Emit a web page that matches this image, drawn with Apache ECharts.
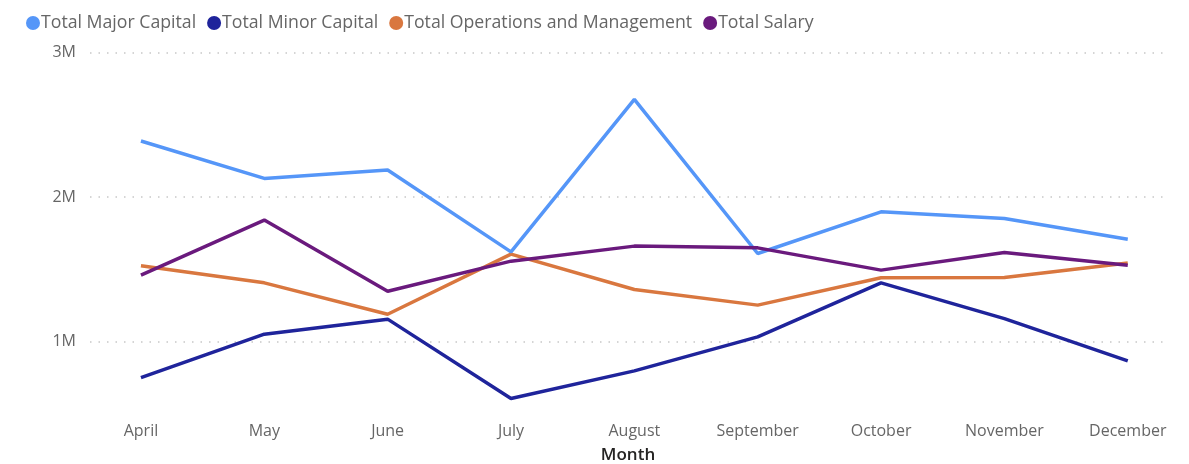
<!DOCTYPE html>
<html>
<head>
<meta charset="utf-8">
<script src="https://cdn.jsdelivr.net/npm/echarts@6/dist/echarts.min.js"></script>
<style>
html,body{margin:0;padding:0;background:#fff;}
#c{width:1189px;height:464px;}
</style>
</head>
<body>
<div id="c"></div>
<script>
const months = ['April','May','June','July','August','September','October','November','December'];
const majorCapital = [2388000, 2129000, 2187000, 1621000, 2676000, 1610000, 1898000, 1852000, 1709000];
const minorCapital = [752000, 1052000, 1156000, 607000, 798000, 1033000, 1407000, 1160000, 867000];
const operations = [1525000, 1407000, 1190000, 1606000, 1361000, 1253000, 1442000, 1444000, 1545000];
const salary = [1460000, 1841000, 1349000, 1557000, 1661000, 1649000, 1495000, 1617000, 1529000];
const yTicks = [1000000, 2000000, 3000000];
const seriesNames = ['Total Major Capital','Total Minor Capital','Total Operations and Management','Total Salary'];
const colors = ['#5596F8','#1F249B','#D9773F','#6A1A7D'];

const font = '"Open Sans", "Noto Sans", sans-serif';
const toPairs = arr => arr.map((v, i) => [i, v]);
const idx = months.map((m, i) => i);

const chart = echarts.init(document.getElementById('c'), null, {renderer: 'canvas'});
const allData = [majorCapital, minorCapital, operations, salary];
chart.setOption({
  animation: false,
  color: colors,
  textStyle: {fontFamily: font},
  legend: {
    left: 21, top: 9,
    icon: 'circle', itemWidth: 14, itemHeight: 14, itemGap: 11,
    textStyle: {color: '#666', fontSize: 17.7, fontFamily: font, padding: [0,0,0,-4]},
    data: seriesNames
  },
  grid: {left: 90, right: 23, top: 52.5, bottom: 50, containLabel: false, outerBoundsMode: 'none'},
  xAxis: {
    type: 'value', min: -0.413, max: 8.31,
    name: 'Month', nameLocation: 'middle', nameGap: 33,
    nameTextStyle: {color: '#252423', fontSize: 17, fontWeight: 600, fontFamily: font},
    axisLine: {show: false}, axisTick: {show: false, customValues: idx},
    splitLine: {show: false},
    axisLabel: {customValues: idx, color: '#666', fontSize: 16, margin: 9,
      formatter: v => months[Math.round(v)] || ''}
  },
  yAxis: {
    type: 'value', min: 500000, max: 3000000,
    axisLine: {show: false},
    axisTick: {show: false, customValues: yTicks},
    axisLabel: {customValues: yTicks, color: '#666', fontSize: 16, margin: 14,
      formatter: v => (v / 1000000) + 'M'},
    splitLine: {show: true, lineStyle: {color: '#c8c8c8', width: 1.5, type: [1.5, 7]}}
  },
  series: seriesNames.map((n, k) => ({
    name: n, type: 'line', data: toPairs(allData[k]),
    symbol: 'none', lineStyle: {width: 3.5, color: colors[k]},
    itemStyle: {color: colors[k]}, z: [4,3,2,5][k]
  }))
});
</script>
</body>
</html>
